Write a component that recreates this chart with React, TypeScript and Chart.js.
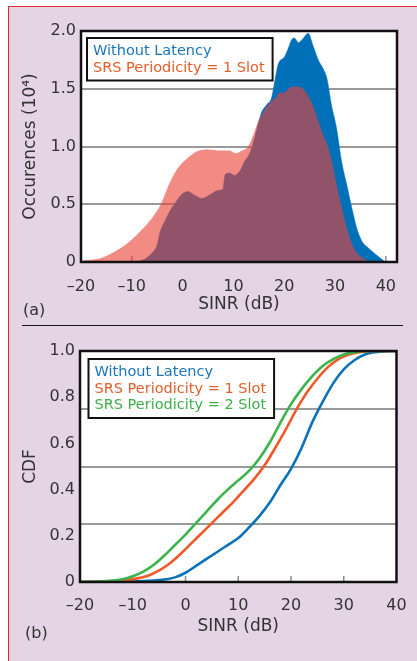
import React, { useEffect, useRef } from 'react';
import { Chart, registerables } from 'chart.js';

Chart.register(...registerables);

const FONT = '"DejaVu Sans", "Noto Sans", sans-serif';
const TEXT = '#333333';

// ---------- Panel (a): occurrence histograms (x10^4) ----------
const sinrNoLatency = [-20, -12, -10, -8, -6, -5, -4.5, -3.3, -2.4, -1.6, -0.3, 1.0, 2.3, 3.8, 5.3, 6.9, 7.9, 8.4, 9.2, 10.2, 11.3, 12.2, 13.2, 14.2, 15.5, 16.5, 17.5, 18.2, 18.8, 20.1, 20.8, 21.4, 22.0, 22.8, 23.8, 24.7, 25.7, 26.7, 27.7, 28.4, 29.3, 30.3, 31.3, 32.3, 33.3, 34.3, 35.3, 36.6, 37.9, 39.9];
const occNoLatency = [0, 0, 0.005, 0.015, 0.08, 0.15, 0.25, 0.37, 0.45, 0.5, 0.58, 0.61, 0.58, 0.55, 0.58, 0.62, 0.63, 0.76, 0.77, 0.75, 0.79, 0.87, 0.94, 1.08, 1.29, 1.36, 1.42, 1.58, 1.71, 1.78, 1.85, 1.92, 1.94, 1.9, 1.94, 1.98, 1.87, 1.75, 1.67, 1.59, 1.36, 1.16, 0.87, 0.67, 0.47, 0.29, 0.18, 0.12, 0.07, 0];

const sinrSrs1 = [-20, -18, -16, -13.5, -11.5, -8.9, -6.2, -4.3, -2.6, -1.0, 1.0, 3.0, 5.0, 7.6, 9.2, 10.5, 11.5, 12.9, 13.9, 14.9, 15.9, 17.2, 18.5, 18.9, 20.1, 21.1, 22.1, 23.4, 24.4, 25.4, 26.5, 27.5, 28.6, 29.5, 30.4, 31.2, 32.0, 33.0, 34.0, 35.0, 36.0, 37.0, 38.0];
const occSrs1 = [0.01, 0.02, 0.035, 0.087, 0.14, 0.24, 0.37, 0.5, 0.68, 0.81, 0.9, 0.96, 0.975, 0.965, 0.965, 0.94, 0.96, 1.0, 1.1, 1.22, 1.3, 1.38, 1.43, 1.46, 1.47, 1.51, 1.52, 1.51, 1.46, 1.38, 1.25, 1.12, 1.0, 0.85, 0.65, 0.5, 0.35, 0.2, 0.1, 0.05, 0.02, 0.005, 0];

// ---------- Panel (b): CDFs ----------
const cdfSinrNoLatency = [-20, -10, -5, -2, 0, 2, 4, 6, 8, 10, 12, 14, 16, 18, 20, 22, 24, 26, 28, 30, 32, 34, 36, 38, 40];
const cdfNoLatency = [0, 0.002, 0.008, 0.02, 0.04, 0.07, 0.1, 0.13, 0.16, 0.19, 0.235, 0.285, 0.345, 0.42, 0.49, 0.58, 0.69, 0.78, 0.86, 0.92, 0.96, 0.985, 0.995, 0.999, 1.0];

const cdfSinrSrs1 = [-20, -15, -10, -7, -5, -3, -1, 1, 3, 5, 7, 9, 11, 13, 15, 17, 19, 21, 23, 25, 27, 29, 31, 33, 36, 40];
const cdfSrs1 = [0, 0.003, 0.012, 0.028, 0.05, 0.08, 0.12, 0.165, 0.21, 0.255, 0.3, 0.345, 0.395, 0.445, 0.505, 0.58, 0.66, 0.745, 0.82, 0.88, 0.93, 0.965, 0.985, 0.995, 1.0, 1.0];

const cdfSinrSrs2 = [-20, -15, -12, -10, -8, -6, -4, -2, 0, 2, 4, 6, 8, 10, 12, 14, 16, 18, 20, 22, 24, 26, 28, 30, 32, 35, 40];
const cdfSrs2 = [0, 0.004, 0.012, 0.025, 0.045, 0.075, 0.115, 0.16, 0.205, 0.255, 0.305, 0.355, 0.4, 0.44, 0.48, 0.535, 0.605, 0.69, 0.77, 0.835, 0.89, 0.935, 0.965, 0.985, 0.995, 1.0, 1.0];

const labelsA = ['Without Latency', 'SRS Periodicity = 1 Slot'];
const labelsB = ['Without Latency', 'SRS Periodicity = 1 Slot', 'SRS Periodicity = 2 Slot'];

const pts = (xs: number[], ys: number[]) => xs.map((x, i) => ({ x, y: ys[i] }));
const fmtX = (v: any) => (Number(v) < 0 ? '\u2013' + Math.abs(Number(v)) : String(v));

const plotBg = {
  id: 'plotBg',
  beforeDraw(chart: any) {
    const { ctx, chartArea: a } = chart;
    ctx.save();
    ctx.fillStyle = '#ffffff';
    ctx.fillRect(a.left, a.top, a.right - a.left, a.bottom - a.top);
    ctx.restore();
  },
};

const innerTicks = {
  id: 'innerTicks',
  beforeDatasetsDraw(chart: any) {
    const { ctx, chartArea: a, scales } = chart;
    const xs = scales.x;
    ctx.save();
    ctx.strokeStyle = '#8a8a8a';
    ctx.lineWidth = 1.5;
    xs.ticks.forEach((t: any) => {
      if (t.value <= xs.min || t.value >= xs.max) return;
      const px = xs.getPixelForValue(t.value);
      ctx.beginPath();
      ctx.moveTo(px, a.bottom);
      ctx.lineTo(px, a.bottom - 6);
      ctx.stroke();
    });
    ctx.restore();
  },
};

const frame = {
  id: 'frame',
  afterDatasetsDraw(chart: any) {
    const { ctx, chartArea: a } = chart;
    ctx.save();
    ctx.strokeStyle = '#111111';
    ctx.lineWidth = 2.5;
    ctx.strokeRect(a.left, a.top, a.right - a.left, a.bottom - a.top);
    ctx.restore();
  },
};

const boxLegend = {
  id: 'boxLegend',
  afterDatasetsDraw(chart: any, _args: any, opts: any) {
    const { ctx, chartArea: a } = chart;
    const ds = chart.data.datasets;
    ctx.save();
    ctx.font = `14.5px ${FONT}`;
    const lh = 16.5;
    const w = Math.max(...ds.map((d: any) => ctx.measureText(d.label).width)) + 14;
    const h = 17 + (ds.length - 1) * lh + 9;
    const x = a.left + opts.dx;
    const y = a.top + opts.dy;
    ctx.fillStyle = '#ffffff';
    ctx.fillRect(x, y, w, h);
    ctx.lineWidth = 2;
    ctx.strokeStyle = '#111111';
    ctx.strokeRect(x, y, w, h);
    ctx.textBaseline = 'alphabetic';
    ctx.textAlign = 'left';
    ds.forEach((d: any, i: number) => {
      ctx.fillStyle = d.legendColor;
      ctx.fillText(d.label, x + 6, y + 17 + i * lh);
    });
    ctx.restore();
  },
};

function ChartA() {
  const ref = useRef<HTMLCanvasElement>(null);
  useEffect(() => {
    const chart = new Chart(ref.current as HTMLCanvasElement, {
      type: 'line',
      data: {
        datasets: [
          {
            label: labelsA[0],
            data: pts(sinrNoLatency, occNoLatency),
            fill: 'origin',
            backgroundColor: '#0070b8',
            borderColor: '#0070b8',
            borderWidth: 0.5,
            pointRadius: 0,
            cubicInterpolationMode: 'monotone',
            order: 2,
            legendColor: '#1b75bb',
          } as any,
          {
            label: labelsA[1],
            data: pts(sinrSrs1, occSrs1),
            fill: 'origin',
            backgroundColor: 'rgba(235,65,55,0.61)',
            borderColor: 'rgba(0,0,0,0)',
            borderWidth: 0.5,
            pointRadius: 0,
            cubicInterpolationMode: 'monotone',
            order: 1,
            legendColor: '#e0602c',
          } as any,
        ],
      },
      options: {
        animation: false,
        responsive: false,
        events: [],
        layout: { padding: { left: 12, right: 20, top: 31, bottom: 0 } },
        plugins: {
          legend: { display: false },
          tooltip: { enabled: false },
          boxLegend: { dx: 6, dy: 7 },
        } as any,
        scales: {
          x: {
            type: 'linear',
            min: -20,
            max: 42.2,
            grid: { display: false },
            border: { display: false },
            ticks: {
              stepSize: 10,
              includeBounds: false,
              autoSkip: false,
              maxRotation: 0,
              padding: 7,
              color: TEXT,
              font: { family: FONT, size: 16 },
              callback: fmtX,
            },
            title: {
              display: true,
              text: 'SINR (dB)',
              color: TEXT,
              font: { family: FONT, size: 17 },
              padding: { top: 0, bottom: 10.5 },
            },
            afterFit: (s: any) => {
              s.height = 63;
            },
          },
          y: {
            min: 0,
            max: 2,
            grid: { color: '#9a9a9a', lineWidth: 2, drawTicks: false },
            border: { display: false },
            ticks: {
              stepSize: 0.5,
              padding: 5,
              color: TEXT,
              font: { family: FONT, size: 16 },
              callback: (v: any) => (Number(v) === 0 ? '0' : Number(v).toFixed(1)),
            },
            title: {
              display: true,
              text: 'Occurences (10\u2074)',
              color: TEXT,
              font: { family: FONT, size: 17 },
              padding: { top: 8, bottom: 0 },
            },
            afterFit: (s: any) => {
              s.width = 69;
            },
          },
        },
      } as any,
      plugins: [plotBg, innerTicks, frame, boxLegend],
    });
    return () => chart.destroy();
  }, []);
  return (
    <canvas
      ref={ref}
      width={417}
      height={325}
      style={{ position: 'absolute', left: 0, top: 0, width: 417, height: 325, display: 'block' }}
    />
  );
}

function ChartB() {
  const ref = useRef<HTMLCanvasElement>(null);
  useEffect(() => {
    const lineDs = (label: string, xs: number[], ys: number[], color: string, textColor: string, order: number) =>
      ({
        label,
        data: pts(xs, ys),
        fill: false,
        borderColor: color,
        backgroundColor: color,
        borderWidth: 2.6,
        pointRadius: 0,
        cubicInterpolationMode: 'monotone',
        order,
        legendColor: textColor,
      } as any);
    const chart = new Chart(ref.current as HTMLCanvasElement, {
      type: 'line',
      data: {
        datasets: [
          lineDs(labelsB[0], cdfSinrNoLatency, cdfNoLatency, '#0a72ba', '#1b75bb', 3),
          lineDs(labelsB[1], cdfSinrSrs1, cdfSrs1, '#f05a28', '#e0602c', 2),
          lineDs(labelsB[2], cdfSinrSrs2, cdfSrs2, '#3cb44b', '#3fae49', 1),
        ],
      },
      options: {
        animation: false,
        responsive: false,
        events: [],
        layout: { padding: { left: 12, right: 20.5, top: 26, bottom: 0 } },
        plugins: {
          legend: { display: false },
          tooltip: { enabled: false },
          boxLegend: { dx: 8.5, dy: 8 },
        } as any,
        scales: {
          x: {
            type: 'linear',
            min: -20,
            max: 40,
            grid: { display: false },
            border: { display: false },
            ticks: {
              stepSize: 10,
              includeBounds: false,
              autoSkip: false,
              maxRotation: 0,
              padding: 6,
              color: TEXT,
              font: { family: FONT, size: 16 },
              callback: fmtX,
            },
            title: {
              display: true,
              text: 'SINR (dB)',
              color: TEXT,
              font: { family: FONT, size: 17 },
              padding: { top: 0, bottom: 23.8 },
            },
            afterFit: (s: any) => {
              s.height = 79;
            },
          },
          y: {
            min: 0,
            max: 1,
            grid: {
              drawTicks: false,
              lineWidth: 2,
              color: (c: any) =>
                c.index % 5 === 0 && c.index > 0 && c.index < 20 ? '#9a9a9a' : 'rgba(0,0,0,0)',
            },
            border: { display: false },
            ticks: {
              stepSize: 0.05,
              autoSkip: false,
              padding: 5,
              color: TEXT,
              font: { family: FONT, size: 16 },
              callback: (_v: any, i: number) => (i % 4 === 0 ? (i === 0 ? '0' : (i * 0.05).toFixed(1)) : ''),
            },
            title: {
              display: true,
              text: 'CDF',
              color: TEXT,
              font: { family: FONT, size: 17 },
              padding: { top: 8, bottom: 0 },
            },
            afterFit: (s: any) => {
              s.width = 68;
            },
          },
        },
      } as any,
      plugins: [plotBg, innerTicks, frame, boxLegend],
    });
    return () => chart.destroy();
  }, []);
  return (
    <canvas
      ref={ref}
      width={417}
      height={336}
      style={{ position: 'absolute', left: 0, top: 325, width: 417, height: 336, display: 'block' }}
    />
  );
}

export default function App() {
  const labelStyle: React.CSSProperties = {
    position: 'absolute',
    fontFamily: FONT,
    fontSize: 16,
    lineHeight: '20px',
    color: TEXT,
    margin: 0,
  };
  return (
    <div style={{ position: 'absolute', left: 0, top: 0, width: 417, height: 661, background: '#ffffff', overflow: 'hidden' }}>
      <div
        style={{
          position: 'absolute',
          left: 7.5,
          top: 5.5,
          right: 0,
          bottom: 0,
          background: '#e5d3e6',
          borderLeft: '1.5px solid #e42a2f',
          borderTop: '1.5px solid #e42a2f',
        }}
      />
      <div style={{ position: 'absolute', left: 22, top: 324.5, width: 381, height: 1.5, background: '#1a1a1a' }} />
      <ChartA />
      <ChartB />
      <div style={{ ...labelStyle, left: 23, top: 299.5 }}>(a)</div>
      <div style={{ ...labelStyle, left: 25, top: 622.5 }}>(b)</div>
    </div>
  );
}
